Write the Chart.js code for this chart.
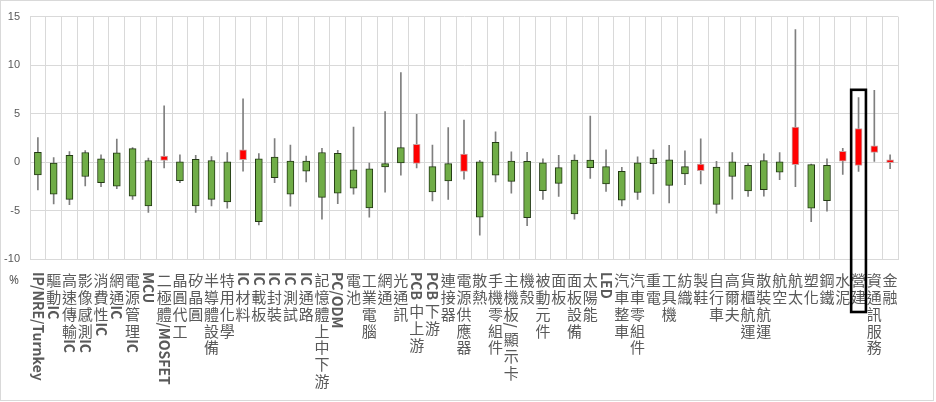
<!DOCTYPE html>
<html>
<head>
<meta charset="utf-8">
<script src="https://cdn.jsdelivr.net/npm/chart.js@4.4.0/dist/chart.umd.min.js"></script>
<style>
  html, body { margin: 0; padding: 0; background: #fff; }
  #wrap { width: 936px; height: 402px; }
</style>
</head>
<body>
<div id="wrap"><canvas id="candleChart" width="936" height="402"></canvas></div>
<script>
// industry groups, left to right
const categories = [
  'IP/NRE/Turnkey', '驅動IC', '高速傳輸IC', '影像感測IC', '消費性IC', '網通IC', '電源管理IC', 'MCU',
  '二極體/MOSFET', '晶圓代工', '矽晶圓', '半導體設備', '特用化學', 'IC材料', 'IC載板', 'IC封裝',
  'IC測試', 'IC通路', '記憶體上中下游', 'PC/ODM', '電池', '工業電腦', '網通', '光通訊',
  'PCB中上游', 'PCB下游', '連接器', '電源供應器', '散熱', '手機零組件', '主機板/顯示卡', '機殼',
  '被動元件', '面板', '面板設備', '太陽能', 'LED', '汽車整車', '汽車零組件', '重電',
  '工具機', '紡織', '製鞋', '自行車', '高爾夫', '貨櫃航運', '散裝航運', '航空',
  '航太', '塑化', '鋼鐵', '水泥', '營建', '資通訊服務', '金融'
];

// % change: open / high / low / close
const openVals = [
  1.01, -0.10, 0.68, 0.98, 0.34, 0.95, 1.39, 0.14,
  0.17, 0.03, 0.27, 0.14, 0.03, 0.24, 0.34, 0.51,
  0.10, 0.10, 0.98, 0.91, -0.81, -0.71, -0.17, 1.49,
  -0.14, -0.47, -0.17, -0.98, 0.03, 2.03, 0.10, 0.07,
  -0.07, -0.57, 0.20, 0.20, -0.47, -0.95, -0.07, 0.41,
  0.24, -0.47, -0.88, -0.51, 0.03, -0.34, 0.14, 0.03,
  -0.27, -0.27, -0.34, 0.10, -0.34, 0.98, -0.07
];
const highVals = [
  2.53, 0.47, 1.08, 1.18, 0.74, 2.36, 1.49, 0.41,
  5.81, 0.74, 0.68, 0.57, 0.98, 6.52, 0.88, 2.43,
  1.76, 0.61, 1.42, 1.22, 3.61, -0.10, 5.20, 9.22,
  4.93, 1.76, 3.55, 4.32, 0.17, 3.11, 1.05, 1.01,
  0.34, 0.68, 0.74, 4.73, 1.25, -0.54, 0.54, 1.25,
  1.72, 1.15, 2.40, 0.07, 0.98, -0.17, 0.84, 0.98,
  13.65, -0.20, 0.34, 1.42, 6.66, 7.40, 0.74
];
const lowVals = [
  -2.87, -4.32, -4.39, -2.47, -2.53, -2.74, -3.85, -5.20,
  -0.61, -2.13, -5.20, -4.53, -4.76, -0.95, -6.49, -2.13,
  -4.56, -2.06, -5.88, -4.29, -3.31, -5.68, -3.11, -1.35,
  -0.61, -4.02, -3.85, -1.76, -7.53, -2.06, -3.21, -6.55,
  -3.85, -3.55, -5.88, -1.69, -3.04, -4.53, -3.85, -3.28,
  -4.22, -2.33, -2.26, -5.27, -3.82, -3.55, -3.51, -1.82,
  -2.53, -6.15, -5.07, -1.28, -0.98, 0.07, -0.68
];
const closeVals = [
  -1.32, -3.31, -3.85, -1.49, -2.13, -2.50, -3.51, -4.53,
  0.61, -1.93, -4.53, -3.85, -4.12, 1.25, -6.15, -1.62,
  -3.31, -0.95, -3.65, -3.21, -2.70, -4.73, -0.51, -0.10,
  1.82, -3.07, -1.96, 0.81, -5.68, -1.35, -1.99, -5.74,
  -2.94, -2.20, -5.34, -0.57, -2.26, -3.92, -3.14, -0.17,
  -2.40, -1.22, -0.20, -4.36, -1.49, -2.97, -2.84, -1.05,
  3.61, -4.76, -3.99, 1.11, 3.45, 1.66, 0.24
];

const yMin = -10;
const yMax = 15;
const yStep = 5;

const highlightIndex = 52;   // 營建
const highlightTop = 7.45;

const UP_COLOR = '#ff0000';
const DOWN_COLOR = '#70ad47';
const GRID = '#d9d9d9';
const TEXT = '#595959';
const LINE_H = 16.8;

const isUp = openVals.map((o, i) => closeVals[i] >= o);

const labelPlugin = {
  id: 'stackedLabels',
  afterDraw(chart) {
    const ctx = chart.ctx;
    const xs = chart.scales.x;
    const ys = chart.scales.y;
    ctx.save();

    // outer frame
    ctx.strokeStyle = GRID;
    ctx.lineWidth = 1;
    ctx.strokeRect(0.5, 0.5, 933, 400);

    ctx.fillStyle = TEXT;
    ctx.font = '12px "Noto Sans"';
    ctx.textAlign = 'center';
    ctx.textBaseline = 'middle';
    ctx.fillText('%', 14, xs.bottom + 22);

    // vertical east-asian style labels: cjk stacked, latin rotated
    categories.forEach((name, i) => {
      const x = xs.getPixelForValue(i);
      let y = xs.bottom + 13;
      const runs = name.match(/[A-Za-z0-9\/]+|./g);
      runs.forEach(run => {
        if (/^[A-Za-z0-9\/]+$/.test(run)) {
          ctx.font = 'bold 14px "Noto Sans CJK TC"';
          const w = ctx.measureText(run).width;
          ctx.save();
          ctx.translate(x, y);
          ctx.rotate(Math.PI / 2);
          ctx.textAlign = 'left';
          ctx.textBaseline = 'middle';
          ctx.fillText(run, 0, 0);
          ctx.restore();
          y += w + 3;
        } else {
          ctx.font = '15px "Noto Sans CJK TC"';
          ctx.textAlign = 'center';
          ctx.textBaseline = 'middle';
          ctx.fillText(run, x, y + LINE_H / 2);
          y += LINE_H;
        }
      });
    });

    // highlight box
    const hx = xs.getPixelForValue(highlightIndex);
    const half = (xs.getPixelForValue(1) - xs.getPixelForValue(0)) * 0.5;
    const top = ys.getPixelForValue(highlightTop);
    ctx.strokeStyle = '#000';
    ctx.lineWidth = 2.6;
    ctx.strokeRect(hx - half + 0.5, top, half * 2 - 1, xs.bottom + 53 - top);

    ctx.restore();
  }
};

new Chart(document.getElementById('candleChart'), {
  type: 'bar',
  data: {
    labels: categories,
    datasets: [
      {
        label: 'body',
        data: openVals.map((o, i) => [o, closeVals[i]]),
        backgroundColor: isUp.map(u => u ? UP_COLOR : DOWN_COLOR),
        borderColor: isUp.map(u => u ? '#c9a3a3' : '#233a14'),
        borderWidth: 1,
        borderSkipped: false,
        barThickness: 7,
        grouped: false
      },
      {
        label: 'wick',
        data: lowVals.map((l, i) => [l, highVals[i]]),
        backgroundColor: '#7f7f7f',
        borderWidth: 0,
        barThickness: 1,
        grouped: false
      }
    ]
  },
  options: {
    responsive: false,
    animation: false,
    layout: { padding: { left: 0, right: 38, top: 12, bottom: 143 } },
    plugins: { legend: { display: false }, tooltip: { enabled: false } },
    scales: {
      x: {
        offset: true,
        grid: { color: GRID, offset: true, drawTicks: false },
        border: { color: GRID },
        ticks: { display: false }
      },
      y: {
        min: yMin,
        max: yMax,
        afterFit: s => { s.width = 30; },
        ticks: { stepSize: yStep, padding: 10, color: TEXT, font: { size: 11, family: 'Liberation Sans' } },
        grid: { color: GRID, drawTicks: false },
        border: { color: GRID }
      }
    }
  },
  plugins: [labelPlugin]
});
</script>
</body>
</html>
